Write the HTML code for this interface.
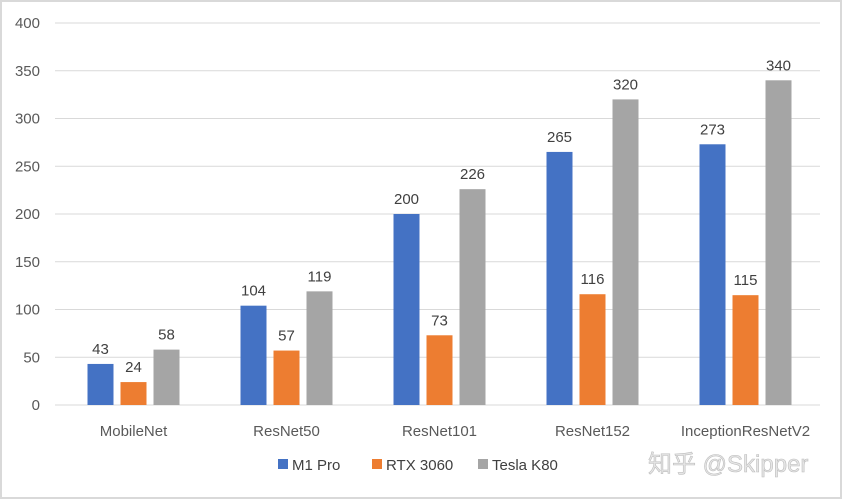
<!DOCTYPE html>
<html><head><meta charset="utf-8"><style>
body{margin:0;background:#fff;}
svg{display:block;font-family:"Liberation Sans","Noto Sans CJK SC",sans-serif;}
</style></head><body>
<svg id="c" width="842" height="500">
<rect x="1" y="1" width="840" height="497" fill="#fff" stroke="#d9d9d9" stroke-width="2"/>
<g id="grid"></g><g id="bars"></g><g id="labels"></g>
<g font-size="15" fill="#404040">
<rect x="278" y="459" width="10" height="10" fill="#4472c4"/>
<text x="292" y="470">M1 Pro</text>
<rect x="372" y="459" width="10" height="10" fill="#ed7d31"/>
<text x="386" y="470">RTX 3060</text>
<rect x="478" y="459" width="10" height="10" fill="#a5a5a5"/>
<text x="492" y="470">Tesla K80</text>
</g>
<text x="648" y="472" font-size="24" fill="#e6e6e6" stroke="#bdbdbd" stroke-width="0.6">知乎 @Skipper</text>
</svg>
<script>
const categories=["MobileNet","ResNet50","ResNet101","ResNet152","InceptionResNetV2"];
const seriesNames=["M1 Pro","RTX 3060","Tesla K80"];
const m1Pro=[43,104,200,265,273];
const rtx3060=[24,57,73,116,115];
const teslaK80=[58,119,226,320,340];
const yTicks=[0,50,100,150,200,250,300,350,400];
const colors=["#4472c4","#ed7d31","#a5a5a5"];
const series=[m1Pro,rtx3060,teslaK80];
const NS="http://www.w3.org/2000/svg";
const x0=55,x1=820,y0=405,y1=23;
const yMax=400;
const ys=v=>y0-(v/yMax)*(y0-y1);
const band=(x1-x0)/categories.length;
const xc=i=>x0+band*(i+0.5)+2;
const bw=26,gap=7;
function mk(t,a,p){const e=document.createElementNS(NS,t);for(const k in a)e.setAttribute(k,a[k]);p.appendChild(e);return e;}
const grid=document.getElementById('grid'),bars=document.getElementById('bars'),labels=document.getElementById('labels');
yTicks.forEach(v=>{
 const l=mk('line',{x1:x0,x2:x1,y1:ys(v),y2:ys(v),stroke:'#d9d9d9','stroke-width':1},grid);
 
 
 const t=mk('text',{x:40,y:ys(v)+5,'text-anchor':'end','font-size':15,fill:'#595959'},grid);
 t.textContent=v;
 
 
});
categories.forEach((c,i)=>{
 const t=mk('text',{x:xc(i),y:436,'text-anchor':'middle','font-size':15,fill:'#595959'},labels);
 t.textContent=c;
 
 
 series.forEach((s,j)=>{
  const bx=xc(i)+(j-1)*(bw+gap)-bw/2;
  const r=mk('rect',{x:bx,y:ys(s[i]),width:bw,height:y0-ys(s[i]),fill:colors[j]},bars);
  
  
  const v=mk('text',{x:bx+bw/2,y:ys(s[i])-10,'text-anchor':'middle','font-size':15,fill:'#404040'},labels);
  v.textContent=s[i];
  
  
 });
});
</script>
</body></html>
